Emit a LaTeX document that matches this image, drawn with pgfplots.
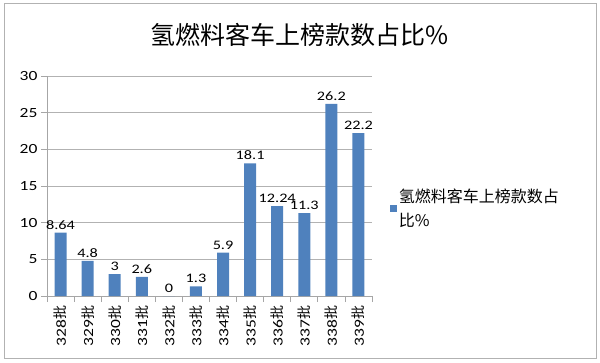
\documentclass[border=0pt]{standalone}
\usepackage{fontspec}
\setmainfont{Carlito}[FakeStretch=1.25]
\newfontfamily\cjk{Noto Sans CJK SC}
\usepackage{pgfplots}
\pgfplotsset{compat=1.18}
\definecolor{barblue}{HTML}{4F81BD}
\begin{document}
\begin{tikzpicture}
\useasboundingbox (0pt,0pt) rectangle (600pt,362pt);
\draw[gray!60, line width=1pt] (4pt,4pt) rectangle (596pt,358pt);
\node[font=\cjk\fontsize{25}{28}\selectfont] at (300pt,327pt) {氢燃料客车上榜款数占比\%};
\begin{axis}[
  at={(47pt,66pt)}, anchor=south west,
  scale only axis, width=325pt, height=220pt,
  xmin=-0.5, xmax=11.5, ymin=0, ymax=30,
  ytick={0,5,...,30},
  xtick={0,...,11},
  xticklabels={328{\cjk 批},329{\cjk 批},330{\cjk 批},331{\cjk 批},332{\cjk 批},333{\cjk 批},334{\cjk 批},335{\cjk 批},336{\cjk 批},337{\cjk 批},338{\cjk 批},339{\cjk 批}},
  x tick label style={rotate=90, anchor=east, font=\fontsize{14}{16}\selectfont},
  y tick label style={font=\fontsize{14}{16}\selectfont},
  /pgf/number format/assume math mode=true,
  major x tick style={draw=none},
  minor xtick={-0.5,0.5,...,11.5},
  minor x tick style={gray!70, line width=0.8pt},
  minor tick length=6pt,
  major tick length=6pt,
  y tick style={gray!70, line width=0.8pt},
  tick align=outside,
  axis x line*=bottom, axis y line*=left,
  axis line style={gray!70, line width=0.8pt, -},
  ymajorgrids, grid style={gray!60, line width=0.8pt},
  ybar, bar width=12pt,
  nodes near coords,
  nodes near coords style={font=\fontsize{13}{15}\selectfont, text=black, inner xsep=0pt, /pgf/number format/fixed, /pgf/number format/precision=2},
  legend style={at={(1.045,0.40)}, anchor=west, draw=none, fill=none,
    font=\cjk\fontsize{16}{24}\selectfont, cells={align=left}},
  legend image code/.code={\fill[barblue] (0pt,-3.5pt) rectangle (7pt,3.5pt);},
  clip=false,
]
\addplot[fill=barblue, draw=none] coordinates {
(0,8.64) (1,4.8) (2,3) (3,2.6) (4,0) (5,1.3) (6,5.9) (7,18.1) (8,12.24) (9,11.3) (10,26.2) (11,22.2)};
\addlegendentry{氢燃料客车上榜款数占\\比\%}
\end{axis}
\end{tikzpicture}
\end{document}
